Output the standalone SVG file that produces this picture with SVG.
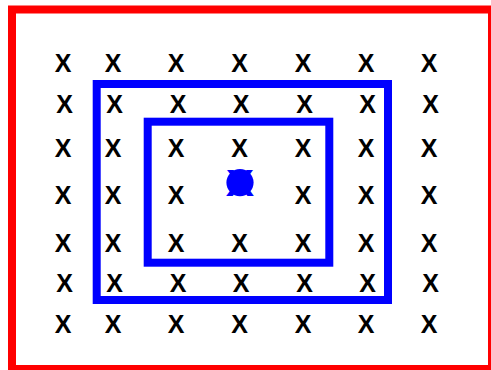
<svg xmlns="http://www.w3.org/2000/svg" width="491" height="370" viewBox="0 0 491 370">
<style>
.x{font-family:"Liberation Sans",Arial,sans-serif;font-weight:bold;font-size:25px;fill:#000;text-anchor:middle}
.b{fill:none;stroke:#0000ff;stroke-width:8}
</style>
<rect width="491" height="370" fill="#fff"/>
<g id="frame"><rect x="12" y="9.5" width="480" height="359.5" fill="none" stroke="#ff0000" stroke-width="8"/></g>
<g id="outer-box"><rect class="b" x="96.7" y="84" width="291.3" height="216"/></g>
<g id="inner-box"><rect class="b" x="147.7" y="121.7" width="181.6" height="141"/></g>
<g id="center-marker">
<text x="0" y="0" font-family="Liberation Sans, Arial, sans-serif" font-weight="bold" font-size="37" fill="#0000ff" text-anchor="middle" transform="translate(240,195.8) scale(1.15,1)">X</text>
<circle cx="240" cy="182.6" r="13.6" fill="#0000ff"/>
</g>
<g id="row1">
<text class="x" x="63" y="71.5">X</text><text class="x" x="113" y="71.5">X</text><text class="x" x="176" y="71.5">X</text><text class="x" x="239.5" y="71.5">X</text><text class="x" x="303" y="71.5">X</text><text class="x" x="366" y="71.5">X</text><text class="x" x="429" y="71.5">X</text>
</g>
<g id="row2">
<text class="x" x="64.5" y="113.3">X</text><text class="x" x="114.7" y="113.3">X</text><text class="x" x="178" y="113.3">X</text><text class="x" x="241" y="113.3">X</text><text class="x" x="304.7" y="113.3">X</text><text class="x" x="367.7" y="113.3">X</text><text class="x" x="430.7" y="113.3">X</text>
</g>
<g id="row3">
<text class="x" x="63" y="157.3">X</text><text class="x" x="113" y="157.3">X</text><text class="x" x="176" y="157.3">X</text><text class="x" x="239.5" y="157.3">X</text><text class="x" x="303" y="157.3">X</text><text class="x" x="366" y="157.3">X</text><text class="x" x="429" y="157.3">X</text>
</g>
<g id="row4">
<text class="x" x="63" y="204">X</text><text class="x" x="113" y="204">X</text><text class="x" x="176" y="204">X</text><text class="x" x="303" y="204">X</text><text class="x" x="366" y="204">X</text><text class="x" x="429" y="204">X</text>
</g>
<g id="row5">
<text class="x" x="63" y="251.7">X</text><text class="x" x="113" y="251.7">X</text><text class="x" x="176" y="251.7">X</text><text class="x" x="239.5" y="251.7">X</text><text class="x" x="303" y="251.7">X</text><text class="x" x="366" y="251.7">X</text><text class="x" x="429" y="251.7">X</text>
</g>
<g id="row6">
<text class="x" x="64.5" y="291.7">X</text><text class="x" x="114.7" y="291.7">X</text><text class="x" x="178" y="291.7">X</text><text class="x" x="241" y="291.7">X</text><text class="x" x="304.7" y="291.7">X</text><text class="x" x="367.7" y="291.7">X</text><text class="x" x="430.7" y="291.7">X</text>
</g>
<g id="row7">
<text class="x" x="63" y="333.3">X</text><text class="x" x="113" y="333.3">X</text><text class="x" x="176" y="333.3">X</text><text class="x" x="239.5" y="333.3">X</text><text class="x" x="303" y="333.3">X</text><text class="x" x="366" y="333.3">X</text><text class="x" x="429" y="333.3">X</text>
</g>
</svg>
